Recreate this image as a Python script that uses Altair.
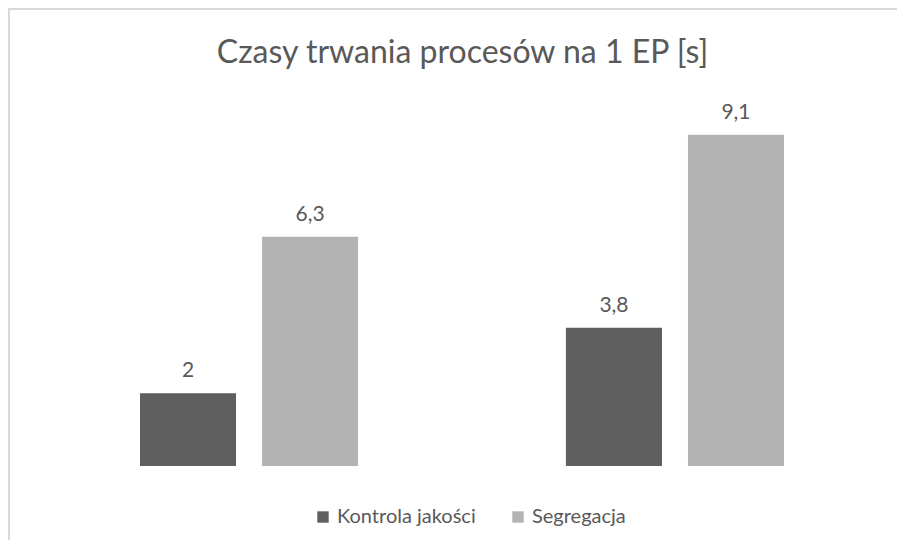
import altair as alt
import pandas as pd

# ---- data ----
groups = ["1", "2"]
series = ["Kontrola jakości", "Segregacja"]
kontrola = [2.0, 3.8]
segregacja = [6.3, 9.1]
colors = ["#5f5f5f", "#b3b3b3"]
title_text = "Czasy trwania procesów na 1 EP [s]"

rows = []
for i, g in enumerate(groups):
    rows.append({"grupa": g, "seria": series[0], "wartosc": kontrola[i]})
    rows.append({"grupa": g, "seria": series[1], "wartosc": segregacja[i]})
df = pd.DataFrame(rows)
df["etykieta"] = df["wartosc"].map(lambda v: f"{v:g}".replace(".", ","))

W, H = 889, 532
FONT = "Lato"
TXT = "#595959"
BORDER = "#d9d9d9"

x_enc = alt.X("grupa:N", axis=None,
              scale=alt.Scale(domain=groups, range=[132, 776], paddingInner=0.488, paddingOuter=0))
xoff = alt.XOffset("seria:N",
                   scale=alt.Scale(domain=series, paddingInner=0.213, paddingOuter=0))
y_enc = alt.Y("wartosc:Q", axis=None, scale=alt.Scale(domain=[0, 10], range=[458, 94]))

base = alt.Chart(df)

bars = base.mark_bar().encode(
    x=x_enc, xOffset=xoff, y=y_enc,
    color=alt.Color("seria:N",
                    scale=alt.Scale(domain=series, range=colors),
                    legend=alt.Legend(orient="none", legendX=305, legendY=499,
                                      direction="horizontal", title=None,
                                      symbolType="square", symbolSize=130,
                                      symbolStrokeWidth=0, labelFont=FONT,
                                      labelFontSize=20, labelColor=TXT,
                                      columnPadding=32, labelOffset=4, padding=0)),
)

labels = base.mark_text(dy=-16, baseline="alphabetic", font=FONT, fontSize=21, color=TXT).encode(
    x=x_enc, xOffset=xoff, y=y_enc, text="etykieta:N"
)

frame_df = pd.DataFrame({"k": [0]})
left_line = alt.Chart(frame_df).mark_rule(color=BORDER, strokeWidth=2).encode(
    x=alt.value(1), y=alt.value(0), y2=alt.value(H)
)
top_line = alt.Chart(frame_df).mark_rule(color=BORDER, strokeWidth=2).encode(
    y=alt.value(1), x=alt.value(0), x2=alt.value(W)
)

chart = alt.layer(bars, labels, left_line, top_line).properties(
    width=W, height=H,
    autosize=alt.AutoSizeParams(type="none"),
    padding=0,
    title=alt.TitleParams(title_text, font=FONT, fontSize=32, fontWeight="normal",
                          color=TXT, anchor="middle", frame="group", offset=-63, dx=10),
).configure_view(stroke=None).configure(background="white")

chart.save("out.html", embed_options={"renderer": "svg", "actions": False})
